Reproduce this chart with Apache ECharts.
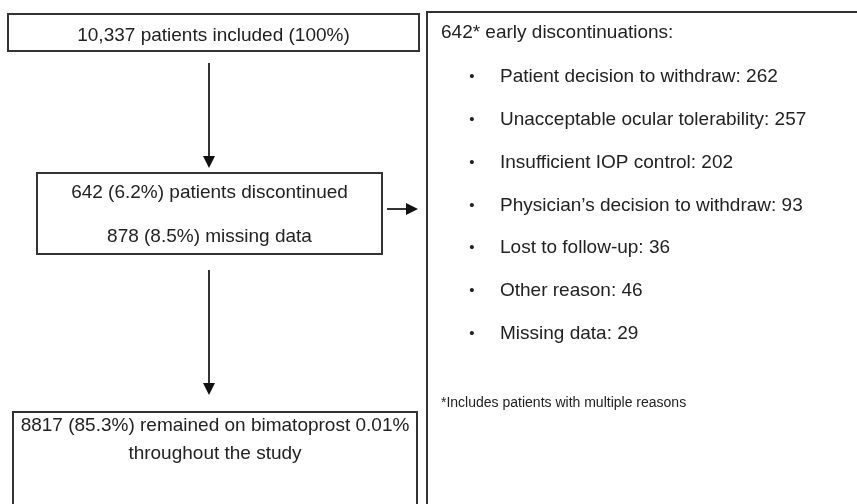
<!DOCTYPE html>
<html><head><meta charset="utf-8">
<script src="https://cdn.jsdelivr.net/npm/echarts@6/dist/echarts.min.js"></script>
<style>html,body{margin:0;padding:0;background:#fff}#c{width:857px;height:504px}</style>
</head><body><div id="c"></div>
<script>
// ---- data ----
const includedN = '10,337';
const includedPct = '100%';
const discontinuedN = '642';
const discontinuedPct = '6.2%';
const missingN = '878';
const missingPct = '8.5%';
const remainedN = '8817';
const remainedPct = '85.3%';
const treatment = 'bimatoprost 0.01%';
const reasonsTitle = '642* early discontinuations:';
const reasonLabels = ['Patient decision to withdraw', 'Unacceptable ocular tolerability', 'Insufficient IOP control', 'Physician\u2019s decision to withdraw', 'Lost to follow-up', 'Other reason', 'Missing data'];
const reasonCounts = [262, 257, 202, 93, 36, 46, 29];
const footnote = '*Includes patients with multiple reasons';

const boxTexts = [
  [`${includedN} patients included (${includedPct})`],
  [`${discontinuedN} (${discontinuedPct}) patients discontinued`, `${missingN} (${missingPct}) missing data`],
  [`${remainedN} (${remainedPct}) remained on ${treatment}`, 'throughout the study'],
  []
];

// ---- layout (diagram coordinates, same units as the hidden axes) ----
const W = 857, H = 504;
const boxGeom = [
  {x0: 8, y0: 14, x1: 419, y1: 51, lineY: [36]},
  {x0: 37, y0: 173, x1: 382, y1: 254, lineY: [193, 237]},
  {x0: 13, y0: 412, x1: 417, y1: 530, lineY: [426, 454]},
  {x0: 427, y0: 12, x1: 880, y1: 530, lineY: []}
];
const arrowGeom = [
  {x0: 209, y0: 63, x1: 209, y1: 168},
  {x0: 209, y0: 270, x1: 209, y1: 395},
  {x0: 387, y0: 209, x1: 418, y1: 209}
];
const listGeom = {titleX: 441, titleY: 33, bulletX: 472, textX: 500, firstY: 77, stepY: 42.8, footY: 403};

const FONT = '"Liberation Sans", Arial, sans-serif';
const TXT = '#222';
const LINE = '#333';

const chart = echarts.init(document.getElementById('c'), null, {renderer: 'canvas'});

function txt(x, y, s, size, align) {
  return {type: 'text', style: {text: s, x: x, y: y, fill: TXT, font: `${size}px ${FONT}`, textAlign: align, textVerticalAlign: 'middle', verticalAlign: 'middle'}};
}

const option = {
  animation: false,
  backgroundColor: '#fff',
  grid: {left: 0, right: 0, top: 0, bottom: 0},
  xAxis: {type: 'value', min: 0, max: W, show: false},
  yAxis: {type: 'value', min: 0, max: H, inverse: true, show: false},
  series: [
    {
      type: 'custom', clip: false, silent: true,
      data: boxGeom.map((b, i) => [b.x0, b.y0, b.x1, b.y1, i]),
      renderItem: function (params, api) {
        const i = api.value(4);
        const b = boxGeom[i];
        const p0 = api.coord([api.value(0), api.value(1)]);
        const p1 = api.coord([api.value(2), api.value(3)]);
        const children = [{type: 'rect', shape: {x: p0[0], y: p0[1], width: p1[0] - p0[0], height: p1[1] - p0[1]}, style: {fill: 'none', stroke: LINE, lineWidth: 2}}];
        const cx = (p0[0] + p1[0]) / 2;
        boxTexts[i].forEach((s, k) => {
          const py = api.coord([0, b.lineY[k]])[1];
          children.push(txt(cx, py, s, 19, 'center'));
        });
        return {type: 'group', children: children};
      }
    },
    {
      type: 'custom', clip: false, silent: true,
      data: arrowGeom.map(a => [a.x0, a.y0, a.x1, a.y1]),
      renderItem: function (params, api) {
        const p0 = api.coord([api.value(0), api.value(1)]);
        const p1 = api.coord([api.value(2), api.value(3)]);
        const horiz = Math.abs(p1[0] - p0[0]) > Math.abs(p1[1] - p0[1]);
        const L = 12, Hw = 6;
        let tri, lineEnd;
        if (horiz) {
          tri = [[p1[0], p1[1]], [p1[0] - L, p1[1] - Hw], [p1[0] - L, p1[1] + Hw]];
          lineEnd = [p1[0] - L + 1, p1[1]];
        } else {
          tri = [[p1[0], p1[1]], [p1[0] - Hw, p1[1] - L], [p1[0] + Hw, p1[1] - L]];
          lineEnd = [p1[0], p1[1] - L + 1];
        }
        return {type: 'group', children: [
          {type: 'line', shape: {x1: p0[0], y1: p0[1], x2: lineEnd[0], y2: lineEnd[1]}, style: {stroke: LINE, lineWidth: 2}},
          {type: 'polygon', shape: {points: tri}, style: {fill: '#111'}}
        ]};
      }
    },
    {
      type: 'custom', clip: false, silent: true,
      data: reasonLabels.map((l, i) => [listGeom.textX, listGeom.firstY + i * listGeom.stepY, i]),
      renderItem: function (params, api) {
        const i = api.value(2);
        const p = api.coord([api.value(0), api.value(1)]);
        const b = api.coord([listGeom.bulletX, api.value(1)]);
        return {type: 'group', children: [
          txt(b[0], b[1], '\u2022', 15, 'center'),
          txt(p[0], p[1], `${reasonLabels[i]}: ${reasonCounts[i]}`, 19, 'left')
        ]};
      }
    },
    {
      type: 'custom', clip: false, silent: true,
      data: [[listGeom.titleX, listGeom.titleY, 0], [listGeom.titleX, listGeom.footY, 1]],
      renderItem: function (params, api) {
        const k = api.value(2);
        const p = api.coord([api.value(0), api.value(1)]);
        return k === 0 ? txt(p[0], p[1], reasonsTitle, 19, 'left') : txt(p[0], p[1], footnote, 14, 'left');
      }
    }
  ]
};
chart.setOption(option);
</script>
</body></html>
